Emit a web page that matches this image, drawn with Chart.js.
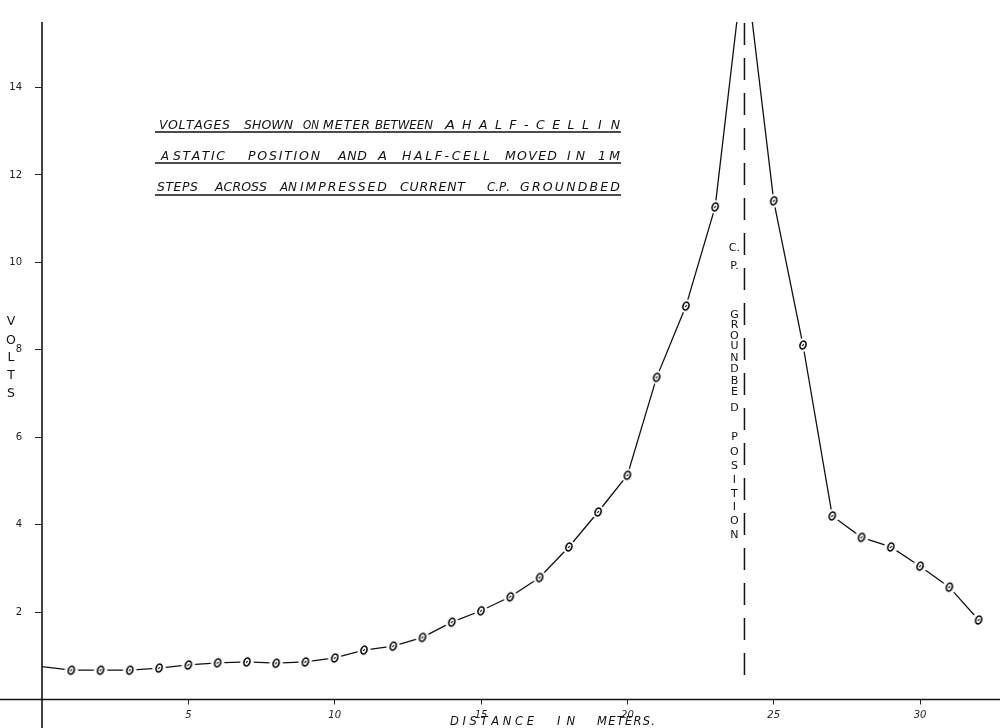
<!DOCTYPE html>
<html>
<head>
<meta charset="utf-8">
<script src="https://cdn.jsdelivr.net/npm/chart.js@4.4.1/dist/chart.umd.min.js"></script>
<style>
  html,body{margin:0;padding:0;background:#fff;overflow:hidden;}
  #wrap{position:relative;width:1000px;height:728px;}
</style>
</head>
<body>
<div id="wrap"><canvas id="c"></canvas></div>
<script>
// ---- data ----
const distances = [0,1,2,3,4,5,6,7,8,9,10,11,12,13,14,15,16,17,18,19,20,21,22,23,24,25,26,27,28,29,30,31,32];
const volts = [0.75,0.67,0.67,0.67,0.72,0.79,0.84,0.86,0.83,0.86,0.95,1.13,1.22,1.42,1.77,2.03,2.35,2.79,3.49,4.29,5.13,7.37,9.00,11.27,17.0,11.41,8.11,4.20,3.71,3.49,3.05,2.57,1.82];
const unmarkedDistances = [0, 24];
const groundbedPosition = 24;
const groundbedLineVolts = [0.56, 15.5];
const xTickValues = [5,10,15,20,25,30];
const yTickValues = [2,4,6,8,10,12,14];
const titleLines = [
  "VOLTAGES SHOWN ON METER BETWEEN A HALF-CELL IN",
  "A STATIC POSITION AND A HALF-CELL MOVED IN 1M",
  "STEPS ACROSS AN IMPRESSED CURRENT C.P. GROUNDBED"
];
const xAxisTitle = "DISTANCE IN METERS.";
const yAxisTitle = "VOLTS";
const groundbedLabel = ["C.","P.","","G","R","O","U","N","D","B","E","D","","P","O","S","I","T","I","O","N"];

// ---- marker ----
function makeMarker(){
  const c=document.createElement('canvas'); c.width=18; c.height=18;
  const g=c.getContext('2d');
  g.fillStyle='#fff'; g.beginPath(); g.arc(9,9,6.8,0,Math.PI*2); g.fill();
  g.save(); g.translate(9,9); g.rotate(0.35);
  g.strokeStyle='#000'; g.lineWidth=1.6;
  g.beginPath(); g.ellipse(0,0,2.9,4.0,0,0,Math.PI*2); g.stroke();
  g.lineWidth=1;
  g.beginPath(); g.moveTo(-0.5,1.2); g.lineTo(0.5,-1.2); g.stroke();
  g.restore();
  return c;
}
const marker = makeMarker();

const FONT = '"DejaVu Sans", sans-serif';

function drawWord(ctx, text, x1, x2, baseline, font){
  ctx.save();
  ctx.font = font;
  ctx.textAlign='left'; ctx.textBaseline='alphabetic';
  const chars = text.split('');
  const widths = chars.map(ch=>ctx.measureText(ch).width);
  const natural = widths.reduce((a,b)=>a+b,0);
  const target = x2-x1;
  const n = chars.length;
  let sx = 1, extra = n>1 ? (target-natural)/(n-1) : 0;
  if (extra < 0 || n === 1) { extra = 0; sx = target/natural; }
  ctx.translate(x1, baseline);
  let cx = 0;
  chars.forEach((ch,i)=>{
    ctx.save(); ctx.translate(cx,0); ctx.scale(sx,1); ctx.fillText(ch,0,0); ctx.restore();
    cx += widths[i]*sx + extra;
  });
  ctx.restore();
}

const decor = {
  id:'decor',
  beforeDatasetsDraw(chart){
    const ctx=chart.ctx, xs=chart.scales.x, ys=chart.scales.y;
    const x0=xs.getPixelForValue(0), y0=ys.getPixelForValue(0);
    ctx.save();
    ctx.strokeStyle='#111'; ctx.lineWidth=1.6;
    ctx.beginPath(); ctx.moveTo(0,y0); ctx.lineTo(1000,y0); ctx.stroke();
    ctx.beginPath(); ctx.moveTo(x0,chart.chartArea.top); ctx.lineTo(x0,728); ctx.stroke();
    ctx.restore();
  },
  afterDraw(chart){
    const ctx=chart.ctx, xs=chart.scales.x;
    ctx.save();
    ctx.fillStyle='#111';
    const tf = 'italic 12.5px ' + FONT;
    const words = [
      [["VOLTAGES",159,230],["SHOWN",244,293],["ON",303,319],["METER",323,370],["BETWEEN",375,433],["A",445,455],["HALF-CELL",462,589],["IN",598,620]],
      [["A",161,169],["STATIC",173,225],["POSITION",248,320],["AND",338,367],["A",378,387],["HALF-CELL",402,490],["MOVED",505,557],["IN",567,585],["1M",598,620]],
      [["STEPS",157,198],["ACROSS",215,267],["AN",280,297],["IMPRESSED",300,387],["CURRENT",400,465],["C.P.",487,510],["GROUNDBED",520,620]]
    ];
    const baselines=[128.5,159.5,190.5];
    const underlines=[132,163,195];
    words.forEach((line,i)=>{
      line.forEach(w=>drawWord(ctx,w[0],w[1],w[2],baselines[i],tf));
      ctx.strokeStyle='#111'; ctx.lineWidth=1.5;
      ctx.beginPath(); ctx.moveTo(155,underlines[i]); ctx.lineTo(621,underlines[i]); ctx.stroke();
    });
    // x axis title
    const xf = 'italic 11.5px ' + FONT;
    [["DISTANCE",450,534],["IN",557,575],["METERS.",597,655]].forEach(w=>drawWord(ctx,w[0],w[1],w[2],725,xf));
    // y axis title (stacked letters)
    ctx.font='12.5px '+FONT; ctx.textAlign='center'; ctx.textBaseline='middle';
    const vy=[322,341,358,376,394];
    yAxisTitle.split('').forEach((ch,i)=>ctx.fillText(ch,11,vy[i]));
    // groundbed label
    const gx = xs.getPixelForValue(groundbedPosition) - 10;
    const gy=[248,266,0,315,325,336,346,358,369,381,392,408,0,437,452,466,480,494,507,521,535];
    ctx.font='11px '+FONT;
    groundbedLabel.forEach((ch,i)=>{ if(ch) ctx.fillText(ch,gx,gy[i]); });
    ctx.restore();
  }
};

new Chart(document.getElementById('c'), {
  type:'line',
  data:{
    datasets:[
      {
        label:'Volts',
        data: distances.map((d,i)=>({x:d,y:volts[i]})),
        borderColor:'#111',
        borderWidth:1.3,
        tension:0,
        pointStyle: marker,
        pointRadius: ctx => unmarkedDistances.includes(distances[ctx.dataIndex]) ? 0 : 4,
        pointHoverRadius:4,
        order:1
      },
      {
        label:'Groundbed position',
        data: groundbedLineVolts.map(v=>({x:groundbedPosition,y:v})),
        borderColor:'#111',
        borderWidth:1.5,
        borderDash:[22,13],
        pointRadius:0,
        order:2
      }
    ]
  },
  options:{
    responsive:true,
    maintainAspectRatio:false,
    animation:false,
    layout:{padding:{left:0,right:0,top:22,bottom:0}},
    plugins:{legend:{display:false},tooltip:{enabled:false},title:{display:false}},
    scales:{
      x:{
        type:'linear', min:0, max:32.55,
        afterBuildTicks: s => { s.ticks = xTickValues.map(v=>({value:v})); },
        afterFit: s => { s.height = 28.5; },
        grid:{drawOnChartArea:false, drawTicks:true, tickLength:5, color:'#222', lineWidth:1},
        border:{display:false},
        ticks:{color:'#222', padding:5, maxRotation:0, autoSkip:false, font:{family:FONT, size:10, style:'italic'}}
      },
      y:{
        type:'linear', min:0, max:15.5,
        afterBuildTicks: s => { s.ticks = yTickValues.map(v=>({value:v})); },
        afterFit: s => { s.width = 42; },
        grid:{drawOnChartArea:false, drawTicks:true, tickLength:7, color:'#222', lineWidth:1},
        border:{display:false},
        ticks:{color:'#222', padding:13, autoSkip:false, font:{family:FONT, size:10}}
      }
    }
  },
  plugins:[decor]
});
</script>
</body>
</html>
